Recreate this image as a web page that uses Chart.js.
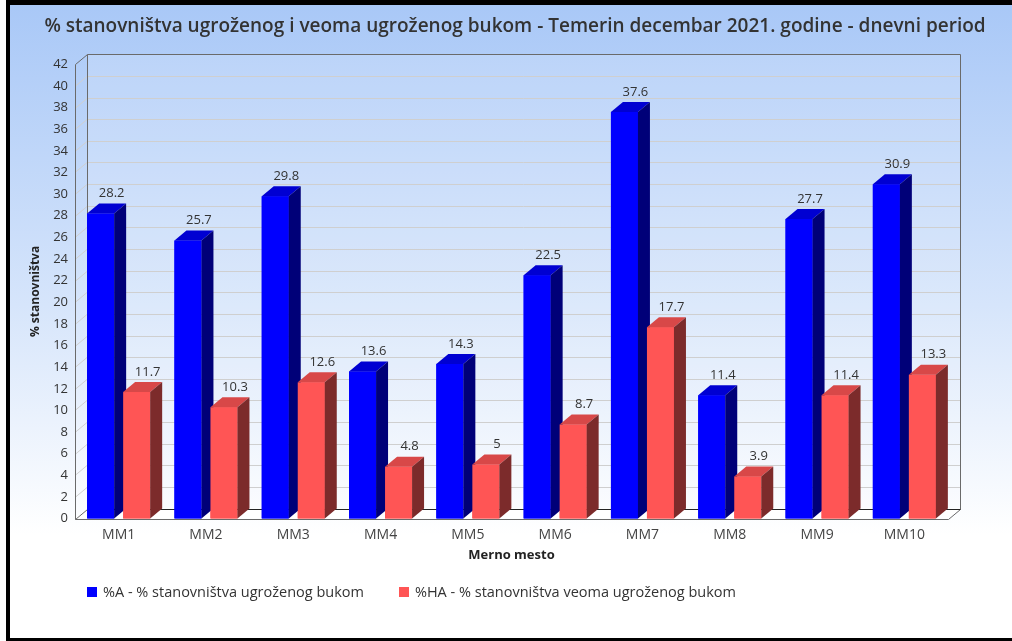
<!DOCTYPE html>
<html>
<head>
<meta charset="utf-8">
<script src="https://cdn.jsdelivr.net/npm/chart.js@4/dist/chart.umd.min.js"></script>
<style>
    html, body { margin: 0; padding: 0; background: #fff; width: 1012px; height: 641px; overflow: hidden; }
    #frame {
        position: absolute; left: 6px; top: 0; width: 1006px; height: 641px;
        box-sizing: border-box;
        border-left: 4px solid #000; border-top: 5px solid #000; border-bottom: 3px solid #000;
        background: linear-gradient(to bottom, #a9c8f7 0px, #d6e5fb 300px, #ffffff 530px, #ffffff 100%);
    }
    #noiseChart { position: absolute; left: 0; top: 0; }
    #legend {
        position: absolute; left: 87px; top: 582px;
        font: 14.5px 'Open Sans', sans-serif; color: #333;
        display: flex; align-items: center;
    }
    #legend .item { display: flex; align-items: center; margin-right: 35px; }
    #legend .box { width: 10px; height: 10px; margin-right: 6px; }
</style>
</head>
<body>
<div id="frame"></div>
<canvas id="noiseChart" width="1012" height="641"></canvas>
<div id="legend"></div>
<script>
// merna mesta i vrednosti
const mesta = ['MM1', 'MM2', 'MM3', 'MM4', 'MM5', 'MM6', 'MM7', 'MM8', 'MM9', 'MM10'];
const ugrozeni = [28.2, 25.7, 29.8, 13.6, 14.3, 22.5, 37.6, 11.4, 27.7, 30.9];
const veomaUgrozeni = [11.7, 10.3, 12.6, 4.8, 5, 8.7, 17.7, 3.9, 11.4, 13.3];
const yMax = 42;
const yStep = 2;

// dubina 3D efekta
const DX = 12;
const DY = -10;

// boje: prednja strana, gornja, bocna
const boje = [
    { front: '#0000ff', top: '#0000d2', side: '#000078' },
    { front: '#ff5555', top: '#d84848', side: '#7c2b2b' }
];

Chart.defaults.font.family = "'Open Sans', sans-serif";

// zidovi, pod i linije mreze
const kutija = {
    id: 'kutija',
    beforeDatasetsDraw(chart) {
        const { ctx, chartArea: { left, right, top, bottom }, scales: { y } } = chart;
        ctx.save();
        ctx.fillStyle = 'rgba(255,255,255,0.15)';
        ctx.fillRect(left + DX, top + DY, right - left, bottom - top);

        // pod
        ctx.fillStyle = '#ffffff';
        ctx.beginPath();
        ctx.moveTo(left, bottom);
        ctx.lineTo(right, bottom);
        ctx.lineTo(right + DX, bottom + DY);
        ctx.lineTo(left + DX, bottom + DY);
        ctx.closePath();
        ctx.fill();

        // mreza
        ctx.lineWidth = 1;
        ctx.strokeStyle = '#cfcfcf';
        y.ticks.forEach(t => {
            if (t.value === 0 || t.value === yMax) return;
            const py = Math.round(y.getPixelForValue(t.value)) + 0.5;
            ctx.beginPath();
            ctx.moveTo(left, py);
            ctx.lineTo(left + DX, py + DY);
            ctx.lineTo(right + DX, py + DY);
            ctx.stroke();
        });

        const L = Math.round(left) + 0.5, R = Math.round(right) + 0.5;
        const T = Math.round(top) + 0.5, B = Math.round(bottom) + 0.5;
        ctx.strokeStyle = '#6a6a6a';
        ctx.beginPath();
        // zadnji zid
        ctx.moveTo(L + DX, B + DY);
        ctx.lineTo(L + DX, T + DY);
        ctx.lineTo(R + DX, T + DY);
        ctx.lineTo(R + DX, B + DY);
        // leva strana
        ctx.moveTo(L, B);
        ctx.lineTo(L, T);
        ctx.lineTo(L + DX, T + DY);
        ctx.moveTo(L, B);
        ctx.lineTo(L + DX, B + DY);
        // prednja ivica poda
        ctx.moveTo(L, B);
        ctx.lineTo(R, B);
        ctx.lineTo(R + DX, B + DY);
        ctx.stroke();

        ctx.strokeStyle = '#222';
        ctx.beginPath();
        ctx.moveTo(L + DX, B + DY);
        ctx.lineTo(R + DX, B + DY);
        ctx.stroke();
        ctx.restore();
    }
};

// stubici sa gornjom i bocnom stranom + vrednosti
const stubici3d = {
    id: 'stubici3d',
    afterDatasetsDraw(chart) {
        const { ctx } = chart;
        ctx.save();
        ctx.font = "13px 'Open Sans', sans-serif";
        ctx.textAlign = 'center';
        ctx.textBaseline = 'middle';
        const n = chart.data.labels.length;
        for (let i = 0; i < n; i++) {
            chart.data.datasets.forEach((ds, d) => {
                const bar = chart.getDatasetMeta(d).data[i];
                const { x, y, base, width } = bar.getProps(['x', 'y', 'base', 'width'], true);
                const l = x - width / 2, r = x + width / 2;
                const c = boje[d];

                ctx.fillStyle = c.front;
                ctx.fillRect(l, y, width, base - y);

                ctx.fillStyle = c.top;
                ctx.beginPath();
                ctx.moveTo(l, y);
                ctx.lineTo(r, y);
                ctx.lineTo(r + DX, y + DY);
                ctx.lineTo(l + DX, y + DY);
                ctx.closePath();
                ctx.fill();

                ctx.fillStyle = c.side;
                ctx.beginPath();
                ctx.moveTo(r, y);
                ctx.lineTo(r + DX, y + DY);
                ctx.lineTo(r + DX, base + DY);
                ctx.lineTo(r, base);
                ctx.closePath();
                ctx.fill();

                ctx.fillStyle = '#333';
                ctx.fillText(String(ds.data[i]), x + DX - 1, y + DY - 10);
            });
        }
        ctx.restore();
    }
};

const ctx = document.getElementById('noiseChart').getContext('2d');
const chart = new Chart(ctx, {
    type: 'bar',
    data: {
        labels: mesta,
        datasets: [
            {
                label: '%A - % stanovništva ugroženog bukom',
                data: ugrozeni,
                backgroundColor: boje[0].front,
                categoryPercentage: 0.825,
                barPercentage: 0.75
            },
            {
                label: '%HA - % stanovništva veoma ugroženog bukom',
                data: veomaUgrozeni,
                backgroundColor: boje[1].front,
                categoryPercentage: 0.825,
                barPercentage: 0.75
            }
        ]
    },
    options: {
        responsive: false,
        devicePixelRatio: 1,
        animation: false,
        layout: {
            padding: { top: 5, left: 24, right: 6, bottom: 74 }
        },
        plugins: {
            legend: { display: false },
            tooltip: { enabled: false },
            title: {
                display: true,
                text: '% stanovništva ugroženog i veoma ugroženog bukom - Temerin decembar 2021. godine - dnevni period',
                color: '#333',
                font: { size: 19, weight: '600' },
                padding: { top: 10.5, bottom: 26 }
            }
        },
        scales: {
            x: {
                grid: { display: false, drawTicks: false },
                border: { display: false },
                ticks: { color: '#444', font: { size: 14 }, padding: 8 },
                title: {
                    display: true,
                    text: 'Merno mesto',
                    color: '#222',
                    font: { size: 13, weight: 'bold' },
                    padding: { top: -4, bottom: 4 }
                }
            },
            y: {
                min: 0,
                max: yMax,
                grid: { display: false, drawTicks: false },
                border: { display: false },
                ticks: { stepSize: yStep, color: '#333', font: { size: 13 }, padding: 7 },
                title: {
                    display: true,
                    text: '% stanovništva',
                    color: '#222',
                    font: { size: 12, weight: 'bold' },
                    padding: { top: 4, bottom: 4 }
                },
                afterFit(scale) { scale.width = 51; }
            },
            // prazan prostor desno od zadnjeg zida
            desno: {
                position: 'right',
                grid: { display: false, drawTicks: false },
                border: { display: false },
                ticks: { display: false },
                afterFit(scale) { scale.width = 58; }
            }
        }
    },
    plugins: [kutija, stubici3d]
});

// legenda ispod grafika
const legenda = document.getElementById('legend');
chart.data.datasets.forEach(ds => {
    const item = document.createElement('div');
    item.className = 'item';
    const box = document.createElement('span');
    box.className = 'box';
    box.style.background = ds.backgroundColor;
    const txt = document.createElement('span');
    txt.textContent = ds.label;
    item.appendChild(box);
    item.appendChild(txt);
    legenda.appendChild(item);
});
</script>
</body>
</html>
